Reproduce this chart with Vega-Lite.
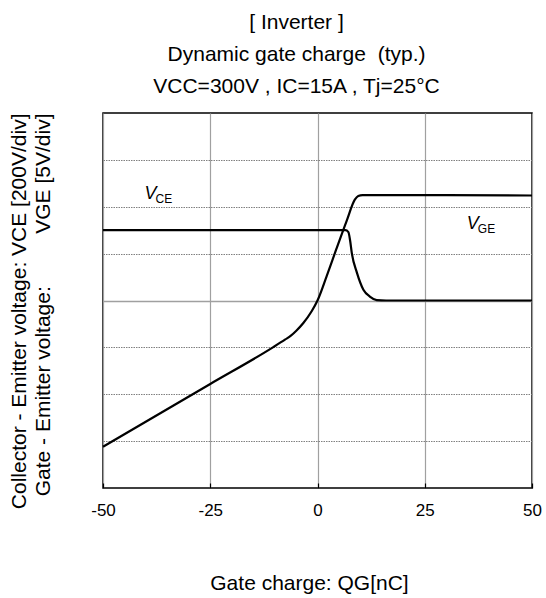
{
  "$schema": "https://vega.github.io/schema/vega-lite/v6.json",
  "autosize": {"type": "none"},
  "padding": {"left": 103, "top": 113, "right": 14, "bottom": 110},
  "width": 429,
  "height": 375,
  "background": "white",
  "config": {
    "font": "Liberation Sans",
    "view": {"stroke": "black", "strokeWidth": 1.5}
  },
  "title": {
    "text": ["[ Inverter ]", "Dynamic gate charge\u00a0\u00a0(typ.)", "VCC=300V , IC=15A , Tj=25°C"],
    "fontSize": 21,
    "fontWeight": "normal",
    "lineHeight": 32,
    "baseline": "bottom",
    "offset": 17,
    "dy": 22,
    "anchor": "middle",
    "dx": -21,
    "color": "black",
    "font": "Liberation Sans"
  },
  "datasets": {
    "curves": [
      {"series": "VGE", "q": -50, "v": -3.12},
      {"series": "VGE", "q": -25, "v": -1.78},
      {"series": "VGE", "q": -10.4, "v": -1.0},
      {"series": "VGE", "q": -7.5, "v": -0.83},
      {"series": "VGE", "q": -6.2, "v": -0.75},
      {"series": "VGE", "q": -5, "v": -0.65},
      {"series": "VGE", "q": -3.3, "v": -0.48},
      {"series": "VGE", "q": -1.4, "v": -0.235},
      {"series": "VGE", "q": 0, "v": 0},
      {"series": "VGE", "q": 2.1, "v": 0.51},
      {"series": "VGE", "q": 4.4, "v": 1.1},
      {"series": "VGE", "q": 6.8, "v": 1.7},
      {"series": "VGE", "q": 8.7, "v": 2.15},
      {"series": "VGE", "q": 9.5, "v": 2.23},
      {"series": "VGE", "q": 10.5, "v": 2.25},
      {"series": "VGE", "q": 30, "v": 2.25},
      {"series": "VGE", "q": 50, "v": 2.24},
      {"series": "VCE", "q": -50, "v": 1.5},
      {"series": "VCE", "q": 6.5, "v": 1.5},
      {"series": "VCE", "q": 7.2, "v": 1.46},
      {"series": "VCE", "q": 7.6, "v": 1.28},
      {"series": "VCE", "q": 8.0, "v": 1.01},
      {"series": "VCE", "q": 9.2, "v": 0.59},
      {"series": "VCE", "q": 10.7, "v": 0.23},
      {"series": "VCE", "q": 12.2, "v": 0.085},
      {"series": "VCE", "q": 13.8, "v": 0.01},
      {"series": "VCE", "q": 16, "v": 0},
      {"series": "VCE", "q": 50, "v": 0}
    ],
    "labels": [
      {"main": "V", "sub": "CE", "q": -40.3, "v": 2.17},
      {"main": "V", "sub": "GE", "q": 34.8, "v": 1.53}
    ]
  },
  "layer": [
    {
      "data": {"name": "curves"},
      "mark": {"type": "line", "color": "black", "strokeWidth": 2.2, "interpolate": "monotone"},
      "encoding": {
        "x": {
          "field": "q", "type": "quantitative",
          "scale": {"domain": [-50, 50], "nice": false},
          "axis": {
            "values": [-50, -25, 0, 25, 50],
            "labelExpr": "'' + datum.value",
            "title": "Gate charge: QG[nC]",
            "titleFontSize": 21, "titleFontWeight": "normal", "titleColor": "black",
            "titlePadding": 54,
            "titleX": 206,
            "labelFontSize": 17, "labelColor": "black", "labelPadding": 19, "labelFlush": false,
            "ticks": true, "tickSize": -5, "tickColor": "black", "tickWidth": 1.2,
            "domain": false,
            "grid": true, "gridColor": "#a0a0a0", "gridWidth": 1.2
          }
        },
        "y": {
          "field": "v", "type": "quantitative",
          "scale": {"domain": [-4, 4], "nice": false},
          "axis": {
            "values": [-3, -2, -1, 0, 1, 2, 3],
            "labels": false, "ticks": false, "domain": false,
            "grid": true,
            "gridColor": {"condition": {"test": "datum.value === 0", "value": "#a0a0a0"}, "value": "#808080"},
            "gridDash": {"condition": {"test": "datum.value === 0", "value": []}, "value": [1.5, 1]},
            "gridWidth": {"condition": {"test": "datum.value === 0", "value": 1.3}, "value": 1},
            "title": ["Collector - Emitter voltage: VCE [200V/div]", "Gate - Emitter voltage:\u00a0\u00a0\u00a0\u00a0\u00a0\u00a0\u00a0\u00a0\u00a0VGE [5V/div]"],
            "titleFontSize": 21, "titleFontWeight": "normal", "titleColor": "black",
            "titleLineHeight": 24,
            "titleAnchor": "end", "titleAlign": "right",
            "titlePadding": 50
          }
        },
        "detail": {"field": "series"}
      }
    },
    {
      "data": {"name": "labels"},
      "mark": {"type": "text", "align": "left", "baseline": "alphabetic", "fontStyle": "italic", "fontSize": 18, "color": "black"},
      "encoding": {
        "x": {"field": "q", "type": "quantitative"},
        "y": {"field": "v", "type": "quantitative"},
        "text": {"field": "main"}
      }
    },
    {
      "data": {"name": "labels"},
      "mark": {"type": "text", "align": "left", "baseline": "alphabetic", "fontSize": 12, "dx": 11, "dy": 4, "color": "black"},
      "encoding": {
        "x": {"field": "q", "type": "quantitative"},
        "y": {"field": "v", "type": "quantitative"},
        "text": {"field": "sub"}
      }
    }
  ]
}
